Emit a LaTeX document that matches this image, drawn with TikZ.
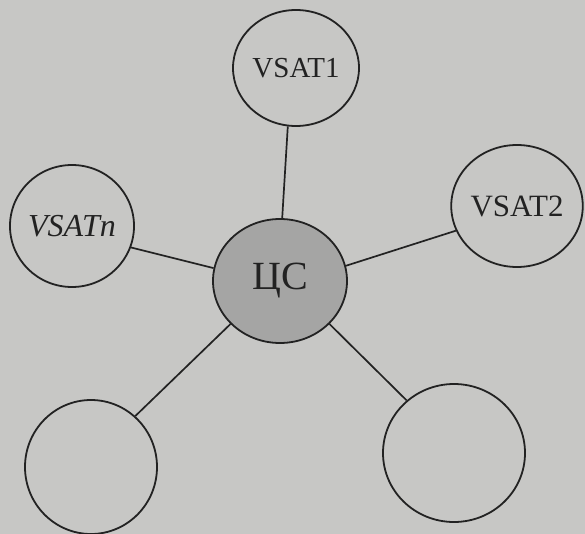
\documentclass[tikz,border=0pt]{standalone}
\usepackage{fontspec}
\setmainfont{Liberation Serif}
\usetikzlibrary{shapes.geometric}
\definecolor{paper}{HTML}{C7C7C5}
\definecolor{hubgray}{HTML}{A5A5A4}
\definecolor{ink}{HTML}{222222}
\begin{document}
\begin{tikzpicture}[x=1pt,y=-1pt,
  station/.style={ellipse,draw=ink,line width=1.8pt,inner sep=0pt,text=ink},
  link/.style={draw=ink,line width=1.7pt}]
  % page background
  \fill[paper] (0,0) rectangle (585,534);
  \useasboundingbox (0,0) rectangle (585,534);
  \begin{scope}
  \clip (0,0) rectangle (585,534);
  % central station
  \node[station,fill=hubgray,minimum width=134pt,minimum height=124pt,
        font=\fontsize{40}{44}\selectfont] (cs) at (280,281) {ЦС};
  % terminals
  \node[station,minimum width=126pt,minimum height=116pt,
        font=\fontsize{29}{32}\selectfont] (v1) at (296,68) {VSAT1};
  \node[station,minimum width=130pt,minimum height=122pt,
        font=\fontsize{31}{34}\selectfont] (v2) at (517,206) {VSAT2};
  \node[station,minimum width=122pt,minimum height=122pt,
        font=\fontsize{32}{35}\selectfont\itshape] (vn) at (72,226) {VSATn};
  \node[station,minimum width=132pt,minimum height=134pt] (bl) at (91,467) {};
  \node[station,minimum width=142pt,minimum height=138pt] (br) at (454,453) {};
  % links to the hub
  \draw[link] (v1.262) -- (cs.88);
  \draw[link] (v2.202) -- (cs.13);
  \draw[link] (vn.-20) -- (cs.169);
  \draw[link] (bl.49) -- (cs.221);
  \draw[link] (br.132) -- (cs.319);
  \end{scope}
\end{tikzpicture}
\end{document}
